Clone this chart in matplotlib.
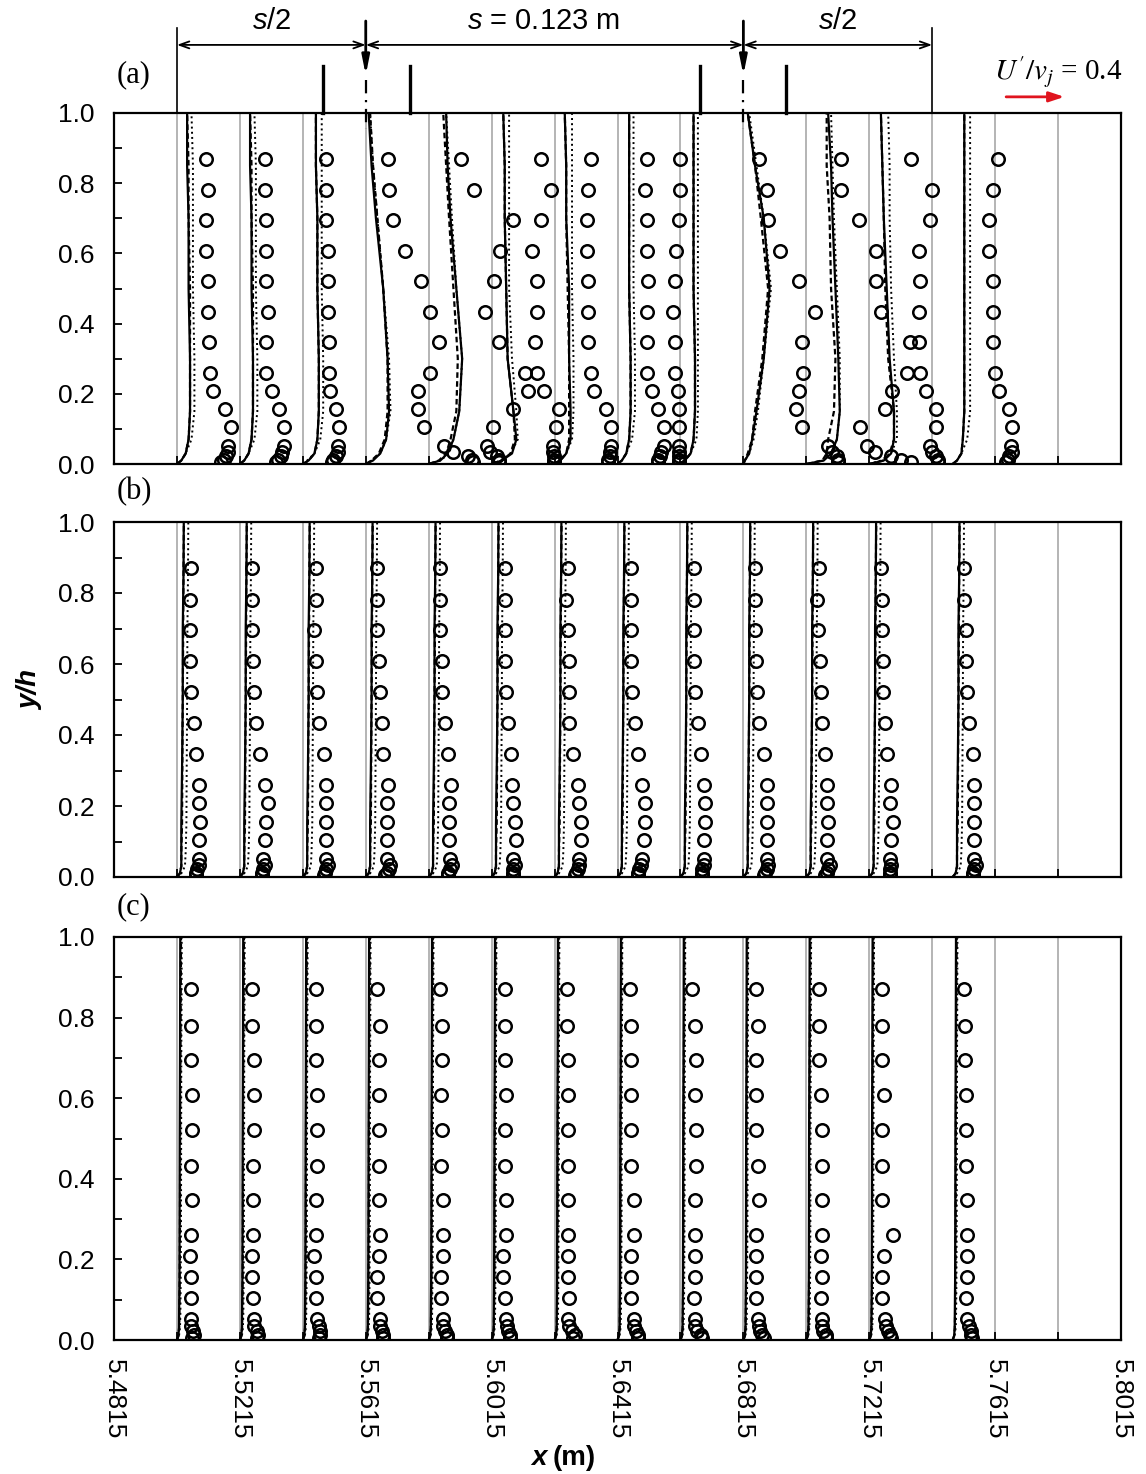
import matplotlib.pyplot as plt

plt.rcParams['font.family'] = ['Liberation Sans', 'DejaVu Sans']
plt.rcParams['mathtext.fontset'] = 'custom'
plt.rcParams['mathtext.rm'] = 'Liberation Sans'
plt.rcParams['mathtext.it'] = 'Liberation Sans:italic'
plt.rcParams['mathtext.bf'] = 'Liberation Sans:bold'

# --- data -------------------------------------------------------------------
# profile stations (m) and grey zero lines
X_STATION = [5.5015, 5.5215, 5.5415, 5.5615, 5.5815, 5.6015, 5.6215,
             5.6415, 5.6615, 5.6815, 5.7015, 5.7215, 5.748]
GRID_X = [5.5015, 5.5215, 5.5415, 5.5615, 5.5815, 5.6015, 5.6215, 5.6415,
          5.6615, 5.6815, 5.7015, 5.7215, 5.7415, 5.7615, 5.7815]

XTICKS = [5.4815, 5.5215, 5.5615, 5.6015, 5.6415, 5.6815, 5.7215, 5.7615, 5.8015]
XTICK_LABELS = ['5.4815', '5.5215', '5.5615', '5.6015', '5.6415', '5.6815',
                '5.7215', '5.7615', '5.8015']
XMINOR = [5.5015, 5.5415, 5.5815, 5.6215, 5.6615, 5.7015, 5.7415, 5.7815]
YTICKS = [0.0, 0.2, 0.4, 0.6, 0.8, 1.0]
YTICK_LABELS = ['0.0', '0.2', '0.4', '0.6', '0.8', '1.0']
YMINOR = [0.1, 0.3, 0.5, 0.7, 0.9]

# measured heights (y/h) and model heights
Y_MEAS = [0.87, 0.78, 0.695, 0.608, 0.52, 0.433, 0.347, 0.26, 0.208, 0.156,
          0.104, 0.052, 0.035, 0.022, 0.012, 0.005]
Y_MODEL = [0, 0.01, 0.03, 0.07, 0.15, 0.3, 0.5, 0.7, 0.85, 1.0]

# measured U'/v_j, one list per station
MEAS_A = [
    [0.20, 0.21, 0.20, 0.20, 0.21, 0.21, 0.22, 0.23, 0.25, 0.33, 0.37, 0.35, 0.35, 0.34, 0.32, 0.30],
    [0.17, 0.17, 0.18, 0.18, 0.18, 0.19, 0.18, 0.18, 0.22, 0.27, 0.30, 0.30, 0.29, 0.28, 0.26, 0.25],
    [0.16, 0.16, 0.16, 0.17, 0.17, 0.17, 0.18, 0.18, 0.19, 0.23, 0.25, 0.24, 0.24, 0.23, 0.21, 0.20],
    [0.15, 0.16, 0.19, 0.27, 0.38, 0.44, 0.50, 0.44, 0.36, 0.36, 0.40, 0.54, 0.60, 0.70, 0.73, 0.74],
    [0.22, 0.31, 0.58, 0.49, 0.45, 0.39, 0.48, 0.66, 0.68, 0.58, 0.44, 0.40, 0.42, 0.47, 0.48, 0.48],
    [0.34, 0.41, 0.34, 0.28, 0.31, 0.31, 0.30, 0.31, 0.36, 0.46, 0.44, 0.42, 0.42, 0.43, 0.43, 0.43],
    [0.25, 0.23, 0.22, 0.22, 0.23, 0.23, 0.23, 0.25, 0.27, 0.35, 0.39, 0.39, 0.38, 0.38, 0.37, 0.37],
    [0.20, 0.19, 0.20, 0.20, 0.21, 0.20, 0.20, 0.20, 0.24, 0.28, 0.32, 0.32, 0.30, 0.29, 0.28, 0.28],
    [0.00, 0.00, -0.01, -0.03, -0.04, -0.05, -0.04, -0.04, -0.02, -0.01, -0.01, -0.01, -0.01, -0.01, -0.01, -0.01],
    [0.11, 0.16, 0.17, 0.25, 0.38, 0.49, 0.40, 0.41, 0.38, 0.36, 0.40, 0.58, 0.61, 0.64, 0.65, 0.65],
    [0.24, 0.24, 0.36, 0.48, 0.48, 0.51, 0.71, 0.69, 0.59, 0.54, 0.37, 0.42, 0.47, 0.58, 0.65, 0.72],
    [0.29, 0.43, 0.42, 0.34, 0.35, 0.34, 0.34, 0.35, 0.39, 0.46, 0.46, 0.42, 0.43, 0.46, 0.47, 0.47],
    [0.31, 0.28, 0.25, 0.25, 0.28, 0.28, 0.28, 0.29, 0.32, 0.39, 0.41, 0.40, 0.41, 0.39, 0.38, 0.37],
]
MEAS_B = [
    [0.10, 0.09, 0.09, 0.09, 0.10, 0.12, 0.13, 0.15, 0.15, 0.16, 0.15, 0.15, 0.15, 0.14, 0.13, 0.13],
    [0.085, 0.085, 0.085, 0.09, 0.10, 0.11, 0.14, 0.17, 0.19, 0.18, 0.17, 0.16, 0.17, 0.16, 0.15, 0.15],
    [0.09, 0.09, 0.08, 0.09, 0.10, 0.11, 0.145, 0.16, 0.16, 0.16, 0.16, 0.16, 0.17, 0.16, 0.15, 0.145],
    [0.08, 0.08, 0.08, 0.09, 0.10, 0.11, 0.12, 0.15, 0.145, 0.145, 0.145, 0.145, 0.17, 0.16, 0.145, 0.13],
    [0.08, 0.08, 0.08, 0.09, 0.09, 0.11, 0.13, 0.15, 0.14, 0.14, 0.14, 0.145, 0.16, 0.145, 0.13, 0.13],
    [0.09, 0.09, 0.09, 0.09, 0.10, 0.115, 0.13, 0.14, 0.15, 0.16, 0.17, 0.15, 0.16, 0.15, 0.145, 0.145],
    [0.09, 0.08, 0.09, 0.10, 0.10, 0.10, 0.13, 0.16, 0.17, 0.18, 0.18, 0.17, 0.17, 0.16, 0.15, 0.14],
    [0.09, 0.09, 0.09, 0.095, 0.10, 0.12, 0.14, 0.17, 0.19, 0.19, 0.18, 0.17, 0.16, 0.15, 0.14, 0.14],
    [0.09, 0.09, 0.09, 0.095, 0.10, 0.12, 0.14, 0.16, 0.17, 0.17, 0.16, 0.16, 0.16, 0.15, 0.15, 0.15],
    [0.08, 0.08, 0.08, 0.09, 0.095, 0.11, 0.14, 0.16, 0.16, 0.16, 0.16, 0.16, 0.17, 0.16, 0.15, 0.14],
    [0.09, 0.07, 0.08, 0.095, 0.10, 0.11, 0.13, 0.14, 0.145, 0.15, 0.145, 0.145, 0.16, 0.15, 0.14, 0.13],
    [0.08, 0.09, 0.09, 0.095, 0.095, 0.11, 0.12, 0.15, 0.14, 0.16, 0.15, 0.14, 0.15, 0.14, 0.14, 0.14],
    [0.08, 0.08, 0.09, 0.09, 0.10, 0.11, 0.14, 0.15, 0.15, 0.15, 0.15, 0.15, 0.16, 0.15, 0.14, 0.14],
]
MEAS_C = [
    [0.095, 0.095, 0.095, 0.105, 0.105, 0.095, 0.105, 0.095, 0.09, 0.095, 0.095, 0.095, 0.10, 0.11, 0.12, 0.105],
    [0.08, 0.08, 0.095, 0.095, 0.095, 0.09, 0.09, 0.09, 0.08, 0.08, 0.09, 0.095, 0.10, 0.115, 0.125, 0.12],
    [0.09, 0.09, 0.09, 0.095, 0.095, 0.10, 0.09, 0.09, 0.08, 0.09, 0.09, 0.10, 0.11, 0.12, 0.12, 0.11],
    [0.08, 0.095, 0.09, 0.09, 0.09, 0.09, 0.09, 0.095, 0.09, 0.08, 0.08, 0.095, 0.10, 0.11, 0.12, 0.12],
    [0.08, 0.09, 0.09, 0.085, 0.09, 0.085, 0.10, 0.095, 0.095, 0.085, 0.085, 0.095, 0.10, 0.11, 0.125, 0.125],
    [0.09, 0.095, 0.095, 0.10, 0.095, 0.095, 0.10, 0.10, 0.08, 0.08, 0.09, 0.10, 0.105, 0.11, 0.125, 0.125],
    [0.085, 0.085, 0.095, 0.09, 0.09, 0.09, 0.095, 0.095, 0.095, 0.095, 0.10, 0.095, 0.10, 0.12, 0.14, 0.13],
    [0.085, 0.09, 0.095, 0.095, 0.095, 0.095, 0.115, 0.11, 0.095, 0.095, 0.095, 0.11, 0.115, 0.13, 0.14, 0.14],
    [0.08, 0.10, 0.11, 0.10, 0.11, 0.11, 0.10, 0.10, 0.10, 0.10, 0.09, 0.10, 0.10, 0.115, 0.14, 0.15],
    [0.09, 0.10, 0.09, 0.09, 0.09, 0.10, 0.105, 0.09, 0.09, 0.09, 0.09, 0.10, 0.105, 0.115, 0.13, 0.14],
    [0.09, 0.09, 0.09, 0.10, 0.105, 0.105, 0.105, 0.105, 0.10, 0.11, 0.10, 0.105, 0.11, 0.115, 0.135, 0.135],
    [0.085, 0.085, 0.085, 0.10, 0.09, 0.09, 0.09, 0.16, 0.10, 0.09, 0.09, 0.105, 0.115, 0.13, 0.14, 0.15],
    [0.08, 0.085, 0.085, 0.09, 0.09, 0.09, 0.10, 0.10, 0.10, 0.10, 0.09, 0.10, 0.115, 0.125, 0.125, 0.13],
]

# model profiles, panel (a): one list per station
SOLID_A = [
    [0, .03, .06, .08, .09, .09, .08, .08, .07, .07],
    [0, .03, .06, .08, .09, .09, .08, .08, .07, .07],
    [0, .04, .08, .10, .11, .11, .10, .10, .09, .09],
    [0, .05, .10, .14, .16, .15, .12, .07, .04, .02],
    [0, .08, .13, .17, .21, .23, .19, .15, .13, .12],
    [0, .07, .14, .17, .15, .11, .10, .09, .09, .08],
    [0, .04, .08, .11, .11, .10, .10, .08, .08, .07],
    [0, .03, .06, .08, .09, .09, .08, .08, .08, .08],
    [0, .03, .07, .09, .10, .10, .09, .09, .09, .09],
    [0, .01, .04, .06, .09, .14, .18, .14, .08, .03],
    [0, .12, .17, .21, .23, .22, .20, .18, .17, .15],
    [0, .10, .15, .17, .17, .14, .12, .10, .09, .08],
    [0, .03, .06, .07, .08, .08, .08, .08, .08, .08],
]
DASHED_A = [
    [0, .03, .06, .08, .09, .09, .09, .08, .08, .07],
    [0, .03, .06, .08, .09, .09, .09, .08, .08, .07],
    [0, .04, .08, .10, .11, .11, .10, .10, .09, .09],
    [0, .04, .09, .13, .15, .15, .12, .08, .05, .03],
    [0, .07, .12, .15, .19, .20, .17, .14, .12, .10],
    [0, .07, .13, .16, .15, .11, .10, .09, .09, .08],
    [0, .04, .08, .10, .10, .10, .09, .08, .08, .07],
    [0, .03, .06, .08, .09, .09, .08, .08, .08, .08],
    [0, .03, .07, .09, .10, .10, .09, .09, .09, .09],
    [0, .01, .03, .06, .08, .13, .17, .12, .08, .03],
    [0, .11, .14, .15, .19, .20, .17, .16, .14, .14],
    [0, .10, .14, .17, .17, .13, .11, .10, .09, .08],
    [0, .03, .06, .07, .08, .08, .08, .08, .08, .08],
]
DOTTED_A = [
    [0, .03, .06, .10, .12, .12, .11, .11, .11, .10],
    [0, .03, .06, .10, .12, .12, .11, .11, .11, .10],
    [0, .03, .08, .12, .14, .14, .13, .13, .13, .13],
    [0, .04, .10, .14, .17, .16, .12, .08, .05, .03],
    [0, .08, .14, .17, .21, .23, .19, .16, .14, .12],
    [0, .06, .13, .18, .17, .14, .12, .12, .12, .12],
    [0, .03, .08, .12, .13, .13, .12, .12, .12, .12],
    [0, .03, .06, .10, .12, .12, .11, .11, .11, .11],
    [0, .03, .07, .11, .12, .12, .12, .12, .12, .12],
    [0, .01, .04, .07, .10, .14, .19, .14, .09, .04],
    [0, .12, .17, .21, .23, .23, .21, .19, .18, .17],
    [0, .08, .15, .19, .19, .17, .15, .14, .14, .13],
    [0, .03, .06, .10, .12, .12, .12, .12, .12, .12],
]
# panels (b) and (c): the same profile at every station
SOLID_B = [0, .02, .03, .03, .03, .035, .04, .04, .045, .047]
DASHED_B = [0, .02, .03, .03, .035, .037, .04, .043, .045, .048]
DOTTED_B = [0, .03, .055, .06, .065, .067, .07, .072, .076, .078]
SOLID_C = [0, .01, .014, .015, .017, .018, .019, .021, .022, .023]
DASHED_C = [0, .01, .015, .017, .019, .021, .022, .024, .026, .028]
DOTTED_C = [0, .014, .021, .024, .026, .028, .029, .03, .032, .033]

SCALE = 0.0185 / 0.4  # metres of x per unit of U'/v_j
REF_U = 0.4

# --- figure -----------------------------------------------------------------
W, H = 1146, 1474
fig = plt.figure(figsize=(W / 100, H / 100), dpi=100)


def box(l, t, r, b):
    return [l / W, 1 - b / H, (r - l) / W, (b - t) / H]


ax_a = fig.add_axes(box(114, 113, 1121, 464))
ax_b = fig.add_axes(box(114, 522, 1121, 877))
ax_c = fig.add_axes(box(114, 937, 1121, 1340))

n = len(X_STATION)
panels = [
    (ax_a, MEAS_A, SOLID_A, DASHED_A, DOTTED_A),
    (ax_b, MEAS_B, [SOLID_B] * n, [DASHED_B] * n, [DOTTED_B] * n),
    (ax_c, MEAS_C, [SOLID_C] * n, [DASHED_C] * n, [DOTTED_C] * n),
]

for ax, meas, sol, das, dot in panels:
    for g in GRID_X:
        ax.plot([g, g], [0, 1], color='#b4b4b4', lw=1.4, zorder=1)
    for i, x0 in enumerate(X_STATION):
        ax.plot([x0 + u * SCALE for u in sol[i]], Y_MODEL, color='k', lw=1.6, zorder=2)
        ax.plot([x0 + u * SCALE for u in das[i]], Y_MODEL, color='k', lw=1.6,
                dashes=(2.5, 1.5), zorder=2)
        ax.plot([x0 + u * SCALE for u in dot[i]], Y_MODEL, color='k', lw=1.4,
                linestyle=':', zorder=2)
        ax.plot([x0 + u * SCALE for u in meas[i]], Y_MEAS, 'o', mfc='none', mec='k',
                ms=9, mew=1.8, zorder=3)
    ax.set_xlim(XTICKS[0], XTICKS[-1])
    ax.set_ylim(0, 1)
    ax.set_xticks(XTICKS)
    ax.set_xticks(XMINOR, minor=True)
    ax.set_yticks(YTICKS)
    ax.set_yticklabels(YTICK_LABELS)
    ax.set_yticks(YMINOR, minor=True)
    ax.tick_params(which='both', direction='in', length=6, width=1.3, top=False, right=False)
    ax.tick_params(axis='y', labelsize=19, pad=14)
    for sp in ax.spines.values():
        sp.set_linewidth(1.6)

for ax in (ax_a, ax_b):
    ax.tick_params(axis='x', labelbottom=False)
ax_c.set_xticklabels(XTICK_LABELS)
ax_c.tick_params(axis='x', labelsize=19, pad=14, labelrotation=270)

# panel letters
for lab, py in (('(a)', 75), ('(b)', 492), ('(c)', 907)):
    fig.text(117 / W, 1 - py / H, lab, family='Liberation Serif', fontsize=22, va='center')

# axis titles
fig.text(30 / W, 1 - 690 / H, 'y/h', rotation=90, fontsize=20, fontweight='bold',
         fontstyle='italic', ha='center', va='center')
fig.text(547 / W, 1 - 1458 / H, 'x', fontsize=20, fontweight='bold', fontstyle='italic',
         ha='right', va='center')
fig.text(553 / W, 1 - 1458 / H, '(m)', fontsize=20, fontweight='bold', ha='left', va='center')

# spacing sketch above panel (a)
EDGE_L, SRC_1, SRC_2, EDGE_R = 5.5015, 5.5615, 5.6815, 5.7415
BARS = [5.548, 5.5755, 5.6678, 5.695]
y_dim = 1.194
for xe in (EDGE_L, EDGE_R):
    ax_a.plot([xe, xe], [1.0, 1.242], color='k', lw=1.2, clip_on=False)
for x1, x2 in ((EDGE_L, SRC_1), (SRC_1, SRC_2), (SRC_2, EDGE_R)):
    ax_a.annotate('', xy=(x2, y_dim), xytext=(x1, y_dim), annotation_clip=False,
                  arrowprops=dict(arrowstyle='<->,head_length=0.7,head_width=0.25',
                                  lw=1.3, color='k', shrinkA=0, shrinkB=0))
for xs in (SRC_1, SRC_2):
    ax_a.annotate('', xy=(xs, 1.108), xytext=(xs, 1.262), annotation_clip=False,
                  arrowprops=dict(arrowstyle='-|>,head_length=1.1,head_width=0.22',
                                  lw=2.0, color='k', shrinkA=0, shrinkB=0))
    ax_a.plot([xs, xs], [1.095, 0.955], color='k', lw=1.6, linestyle='-.',
              dashes=(6, 3, 1, 3), clip_on=False, zorder=4)
for xb in BARS:
    ax_a.plot([xb, xb], [1.0, 1.134], color='k', lw=2.4, clip_on=False)

ax_a.text((EDGE_L + SRC_1) / 2, 1.262, '$s$/2', fontsize=21, ha='center', va='center')
ax_a.text(5.618, 1.262, '$s$ = 0.123 m', fontsize=21, ha='center', va='center')
ax_a.text((SRC_2 + EDGE_R) / 2, 1.262, '$s$/2', fontsize=21, ha='center', va='center')

# reference vector
ref = fig.text(1122 / W, 1 - 80 / H, "$U'/v_j$ = 0.4", family='Liberation Serif',
               fontsize=21, ha='right', va='baseline')
ref.set_math_fontfamily('stix')
x_ref = 5.765
ax_a.annotate('', xy=(x_ref + REF_U * SCALE, 1.046), xytext=(x_ref, 1.046),
              annotation_clip=False,
              arrowprops=dict(arrowstyle='-|>,head_length=0.9,head_width=0.3',
                              lw=2.0, color='#e0141e', shrinkA=0, shrinkB=0))

fig.savefig('out.png', dpi=100)
